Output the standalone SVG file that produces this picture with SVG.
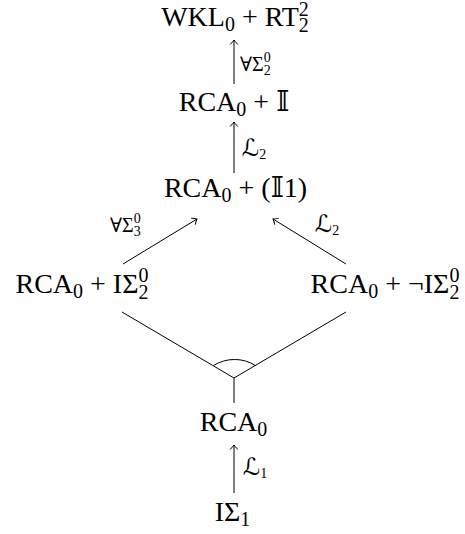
<svg xmlns="http://www.w3.org/2000/svg" width="465" height="534" viewBox="0 0 465 534">
<style>
.n{font-family:"Liberation Serif","DejaVu Serif","DejaVu Sans",serif;font-size:28px;fill:#000;text-anchor:middle}
.l{font-family:"Liberation Serif","DejaVu Serif","DejaVu Sans",serif;font-size:20px;fill:#000}
.s{font-size:20px}
.ss{font-size:14px}
.sc{font-size:24px}
.c{stroke:#000;stroke-width:1;fill:none}
</style>
<defs>
<marker id="ah" markerUnits="userSpaceOnUse" markerWidth="12" markerHeight="12" refX="0" refY="0" viewBox="-6 -6 12 12" orient="auto">
<path d="M-4.5,-3.8 Q-1.2,-0.8 0,0 Q-1.2,0.8 -4.5,3.8" fill="none" stroke="#000" stroke-width="1"/>
</marker>
</defs>
<rect width="465" height="534" fill="#fff"/>
<g id="connectors">
<line class="c" x1="234" y1="84" x2="234" y2="40" marker-end="url(#ah)"/>
<line class="c" x1="234" y1="173" x2="234" y2="122" marker-end="url(#ah)"/>
<line class="c" x1="123" y1="264" x2="197" y2="219" marker-end="url(#ah)"/>
<line class="c" x1="346" y1="264" x2="273" y2="219" marker-end="url(#ah)"/>
<line class="c" x1="234" y1="493" x2="234" y2="445" marker-end="url(#ah)"/>
<line class="c" x1="122" y1="312" x2="234" y2="378"/>
<line class="c" x1="346" y1="312" x2="234" y2="378"/>
<line class="c" x1="234" y1="378" x2="234" y2="403"/>
<path class="c" d="M213.5,365.5 A39.75,39.75 0 0 1 255.5,365.5"/>
<text class="l" x="240" y="71">∀Σ<tspan class="ss" dy="-9">0</tspan><tspan class="ss" dx="-7" dy="13">2</tspan></text>
<text class="l" x="242" y="156"><tspan class="sc">ℒ</tspan><tspan class="ss" dy="3">2</tspan></text>
<text class="l" x="110" y="232">∀Σ<tspan class="ss" dy="-9">0</tspan><tspan class="ss" dx="-7" dy="13">3</tspan></text>
<text class="l" x="315" y="232"><tspan class="sc">ℒ</tspan><tspan class="ss" dy="3">2</tspan></text>
<text class="l" x="243" y="475"><tspan class="sc">ℒ</tspan><tspan class="ss" dy="3">1</tspan></text>
</g>
<g id="n-wkl">
<text class="n" x="235" y="26">WKL<tspan class="s" dy="5">0</tspan><tspan dy="-5"> + RT</tspan><tspan class="s" dy="-10">2</tspan><tspan class="s" dx="-10" dy="16">2</tspan></text>
</g>
<g id="n-rcai">
<text class="n" x="234" y="111">RCA<tspan class="s" dy="5">0</tspan><tspan dy="-5"> + 𝕀</tspan></text>
</g>
<g id="n-rcai1">
<text class="n" x="235.5" y="197">RCA<tspan class="s" dy="5">0</tspan><tspan dy="-5"> + (𝕀1)</tspan></text>
</g>
<g id="n-isigma2">
<text class="n" x="82" y="293">RCA<tspan class="s" dy="5">0</tspan><tspan dy="-5"> + IΣ</tspan><tspan class="s" dy="-11">0</tspan><tspan class="s" dx="-10" dy="17">2</tspan></text>
</g>
<g id="n-notisigma2">
<text class="n" x="385" y="293">RCA<tspan class="s" dy="5">0</tspan><tspan dy="-5"> + ¬IΣ</tspan><tspan class="s" dy="-11">0</tspan><tspan class="s" dx="-10" dy="17">2</tspan></text>
</g>
<g id="n-rca0">
<text class="n" x="233.5" y="431">RCA<tspan class="s" dy="5">0</tspan></text>
</g>
<g id="n-isigma1">
<text class="n" x="232.5" y="521">IΣ<tspan class="s" dy="5">1</tspan></text>
</g>
</svg>
